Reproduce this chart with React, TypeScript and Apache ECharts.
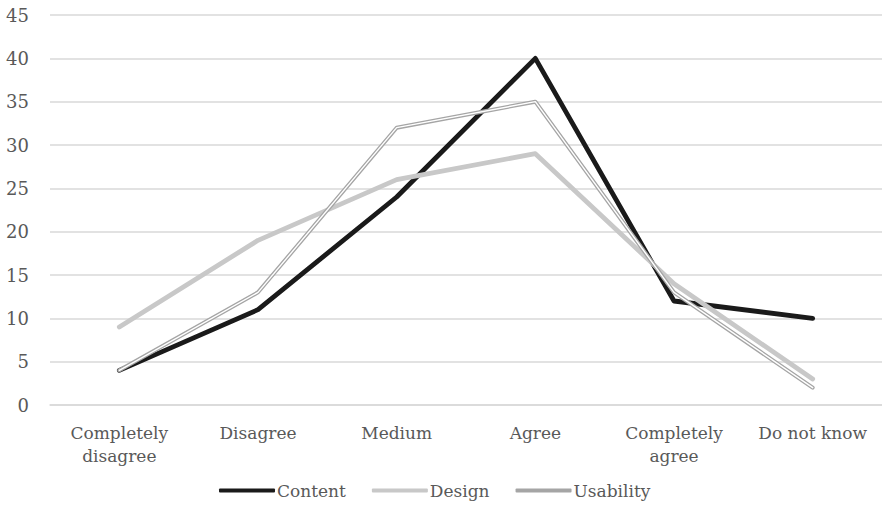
import React, { useEffect, useRef } from "react";
import * as echarts from "echarts";

const categories = [
  "Completely\ndisagree",
  "Disagree",
  "Medium",
  "Agree",
  "Completely\nagree",
  "Do not know",
];
const contentValues = [4, 11, 24, 40, 12, 10];
const designValues = [9, 19, 26, 29, 14, 3];
const usabilityValues = [4, 13, 32, 35, 13, 2];
const legendNames = ["Content", "Design", "Usability"];

const FONT = "DejaVu Serif";
const TEXT = "#595959";

export default function App() {
  const ref = useRef<HTMLDivElement>(null);

  useEffect(() => {
    if (!ref.current) return;
    const chart = echarts.init(ref.current, undefined, { renderer: "svg" });
    chart.setOption({
      animation: false,
      backgroundColor: "#ffffff",
      textStyle: { fontFamily: FONT },
      grid: { left: 50, right: 0, top: 15, bottom: 103, containLabel: false },
      legend: {
        data: legendNames,
        bottom: 4,
        left: 214,
        icon: "roundRect",
        itemWidth: 56,
        itemHeight: 4,
        itemGap: 26,
        textStyle: { fontFamily: FONT, fontSize: 17, color: TEXT, padding: [0, 0, 0, -3] },
      },
      xAxis: {
        type: "category",
        data: categories,
        boundaryGap: true,
        axisLine: { show: true, lineStyle: { color: "#d9d9d9", width: 1.5 } },
        axisTick: { show: false },
        axisLabel: {
          fontFamily: FONT,
          fontSize: 17,
          color: TEXT,
          margin: 16,
          lineHeight: 23,
          interval: 0,
        },
      },
      yAxis: {
        type: "value",
        min: 0,
        max: 45,
        interval: 5,
        axisLine: { show: false },
        axisTick: { show: false },
        splitLine: { lineStyle: { color: "#d9d9d9", width: 1.5 } },
        axisLabel: { fontFamily: FONT, fontSize: 18, color: TEXT, margin: 21 },
      },
      series: [
        {
          name: "Content",
          type: "line",
          data: contentValues,
          symbol: "none",
          color: "#1a1a1a",
          lineStyle: { color: "#1a1a1a", width: 4.8, cap: "round", join: "round" },
        },
        {
          name: "Design",
          type: "line",
          data: designValues,
          symbol: "none",
          color: "#c8c8c8",
          lineStyle: { color: "#c8c8c8", width: 4.8, cap: "round", join: "round" },
        },
        {
          name: "Usability",
          type: "line",
          data: usabilityValues,
          symbol: "none",
          color: "#a5a5a5",
          lineStyle: { color: "#a5a5a5", width: 4, cap: "round", join: "round" },
        },
        {
          // white core that turns the Usability stroke into a double line
          name: "Usability core",
          type: "line",
          data: usabilityValues,
          symbol: "none",
          silent: true,
          color: "#ffffff",
          lineStyle: { color: "#ffffff", width: 1.4, cap: "round", join: "round" },
        },
      ],
    });
    return () => chart.dispose();
  }, []);

  return (
    <div
      ref={ref}
      style={{ position: "absolute", left: 0, top: 0, width: 882, height: 508 }}
    />
  );
}
